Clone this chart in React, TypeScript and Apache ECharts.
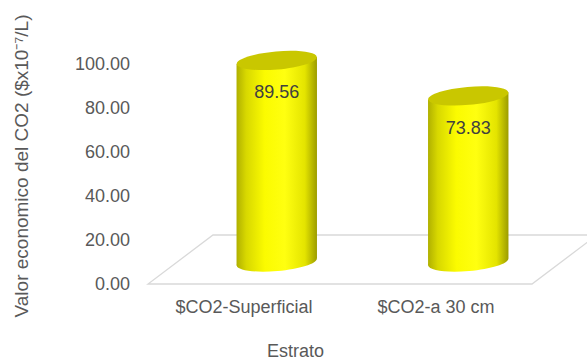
import React, { useEffect, useRef } from "react";
import * as echarts from "echarts";

const categories = ["$CO2-Superficial", "$CO2-a 30 cm"];
const values = [89.56, 73.83];
const yTicks = [0, 20, 40, 60, 80, 100];
const yTitle = "Valor economico del CO2 ($x10⁻⁷/L)";
const xTitle = "Estrato";

export default function App() {
  const ref = useRef<HTMLDivElement>(null);
  useEffect(() => {
    if (!ref.current) return;
    const chart = echarts.init(ref.current, null, { renderer: "svg" });
    const font = "Liberation Sans, Arial, sans-serif";
    const textColor = "#595959";
    const bodyGrad = () =>
      new echarts.graphic.LinearGradient(0, 0, 1, 0, [
        { offset: 0, color: "#b0b000" },
        { offset: 0.12, color: "#d8d800" },
        { offset: 0.35, color: "#fbfb00" },
        { offset: 0.6, color: "#ffff10" },
        { offset: 0.85, color: "#e4e400" },
        { offset: 1, color: "#9c9c00" },
      ]);
    const tilt = 0.087;
    chart.setOption({
      animation: false,
      backgroundColor: "#ffffff",
      grid: [
        { left: 148, right: 55, top: 64, bottom: 79 },
        { left: 181, right: 23, top: 37, bottom: 101 },
      ],
      xAxis: [
        {
          type: "category",
          gridIndex: 0,
          data: categories,
          axisLine: { show: false },
          axisTick: { show: false },
          axisLabel: { color: textColor, fontSize: 18, fontFamily: font, margin: 14 },
        },
        {
          type: "category",
          gridIndex: 1,
          data: categories,
          show: false,
        },
      ],
      yAxis: [
        {
          type: "value",
          gridIndex: 0,
          min: yTicks[0],
          max: yTicks[yTicks.length - 1],
          interval: 20,
          axisLine: { show: false },
          axisTick: { show: false },
          splitLine: { show: false },
          axisLabel: {
            color: textColor,
            fontSize: 18,
            fontFamily: font,
            margin: 18,
            formatter: (v: number) => v.toFixed(2),
          },
        },
        {
          type: "value",
          gridIndex: 1,
          min: 0,
          max: 100,
          show: false,
        },
      ],
      graphic: [
        {
          type: "polygon",
          z: 0,
          silent: true,
          shape: {
            points: [
              [148, 284],
              [532, 284],
              [597, 235],
              [213, 235],
            ],
          },
          style: { fill: "none", stroke: "#d9d9d9", lineWidth: 1.3 },
        },
        {
          type: "text",
          x: 21,
          y: 166,
          rotation: Math.PI / 2,
          style: {
            text: yTitle,
            fill: textColor,
            font: `19px ${font}`,
            align: "center",
            verticalAlign: "middle",
          },
        },
        {
          type: "text",
          left: 267,
          top: 342,
          style: { text: xTitle, fill: textColor, font: `18px ${font}` },
        },
      ],
      series: [
        {
          type: "custom",
          xAxisIndex: 1,
          yAxisIndex: 1,
          z: 5,
          data: values.map((v, i) => [i, v]),
          renderItem: (params: any, api: any) => {
            const top = api.coord([api.value(0), api.value(1)]);
            const base = api.coord([api.value(0), 0]);
            const cx = top[0];
            const yTop = top[1];
            const yBase = base[1];
            const rx = api.size([1, 0])[0] * 0.21;
            const ry = 9;
            const dy = Math.tan(tilt) * rx;
            return {
              type: "group",
              children: [
                {
                  type: "ellipse",
                  x: cx,
                  y: yBase,
                  rotation: tilt,
                  shape: { cx: 0, cy: 0, rx, ry },
                  style: { fill: bodyGrad() },
                },
                {
                  type: "polygon",
                  shape: {
                    points: [
                      [cx - rx, yTop + dy],
                      [cx + rx, yTop - dy],
                      [cx + rx, yBase - dy],
                      [cx - rx, yBase + dy],
                    ],
                  },
                  style: { fill: bodyGrad() },
                },
                {
                  type: "ellipse",
                  x: cx,
                  y: yTop,
                  rotation: tilt,
                  shape: { cx: 0, cy: 0, rx, ry },
                  style: { fill: "#c9c700" },
                },
                {
                  type: "text",
                  x: cx,
                  y: yTop + 32,
                  style: {
                    text: api.value(1).toFixed(2),
                    fill: "#404040",
                    font: `18px ${font}`,
                    align: "center",
                    verticalAlign: "middle",
                  },
                },
              ],
            };
          },
        },
      ],
    });
    return () => chart.dispose();
  }, []);
  return (
    <div
      ref={ref}
      style={{ position: "fixed", left: 0, top: 0, width: 587, height: 363, background: "#fff" }}
    />
  );
}
